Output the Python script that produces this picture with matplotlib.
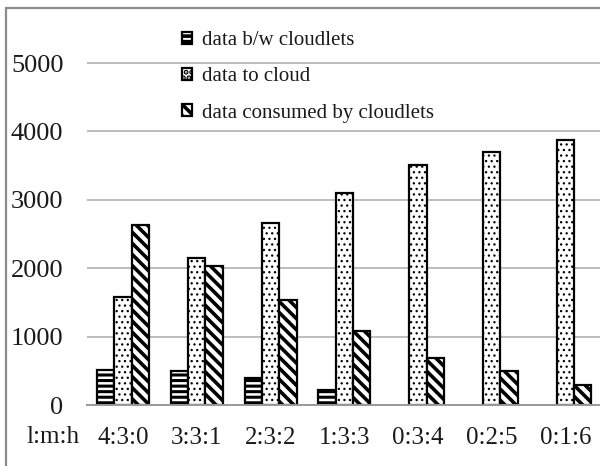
import matplotlib
matplotlib.use("Agg")
import matplotlib.pyplot as plt
import numpy as np
from matplotlib.patches import Rectangle

categories = ["4:3:0", "3:3:1", "2:3:2", "1:3:3", "0:3:4", "0:2:5", "0:1:6"]
series_names = ["data b/w cloudlets", "data to cloud", "data consumed by cloudlets"]
bw_cloudlets = [510, 490, 400, 220, 0, 0, 0]
to_cloud = [1575, 2155, 2665, 3105, 3510, 3695, 3875]
consumed = [2630, 2025, 1535, 1085, 690, 500, 290]
yticks = [0, 1000, 2000, 3000, 4000, 5000]

plt.rcParams['font.family'] = ['Liberation Serif', 'DejaVu Serif']
plt.rcParams['hatch.color'] = 'black'

fig = plt.figure(figsize=(6.0, 4.66), dpi=100)
ax = fig.add_axes([87/600, 61/466, 513/600, 385/466])

x = np.arange(len(categories))
w = 0.235
hatches = ['---', '...', '\\\\\\']
hatch_lw = [2.2, 0.9, 2.6]
data = [bw_cloudlets, to_cloud, consumed]
for i, (vals, h, name) in enumerate(zip(data, hatches, series_names)):
    plt.rcParams['hatch.linewidth'] = hatch_lw[i]
    bars = ax.bar(x + (i - 1) * w, vals, width=w, facecolor='white', edgecolor='black',
                  linewidth=1.6, hatch=h, label=name, zorder=3)
    for b, v in zip(bars, vals):
        if v == 0:
            b.set_visible(False)

ax.set_xlim(-0.49, 6.47)
ax.set_ylim(0, 5629)
ax.set_yticks(yticks)
ax.set_yticklabels([str(v) for v in yticks])
ax.set_xticks(x)
ax.set_xticklabels(categories)
ax.tick_params(axis='y', length=0, pad=17, labelsize=19)
ax.tick_params(axis='x', length=0, pad=16, labelsize=18)
for t in ax.get_xticklabels() + ax.get_yticklabels():
    t.set_color('#1a1a1a')

ax.grid(axis='y', color='#b8b8b8', linewidth=1.3, zorder=0)
ax.set_axisbelow(True)
for s in ['top', 'right', 'left']:
    ax.spines[s].set_visible(False)
ax.spines['bottom'].set_color('#999999')
ax.spines['bottom'].set_linewidth(1.4)
ax.spines['bottom'].set_zorder(4)

fig.text(53/600, 1 - 437/466, "l:m:h", fontsize=18, ha='center', va='center', color='#1a1a1a')

leg = ax.legend(loc='upper left', bbox_to_anchor=(182/600, 1 - 31/466),
                bbox_transform=fig.transFigure, frameon=False, fontsize=15,
                handlelength=0.5, handleheight=0.5, handletextpad=0.45,
                labelspacing=0.83, borderpad=0, borderaxespad=0)
for t in leg.get_texts():
    t.set_color('#1a1a1a')

fig.add_artist(Rectangle((6/600, -0.2), 1.2, 1.2 - 8/466, transform=fig.transFigure,
                         fill=False, edgecolor='#8c8c8c', linewidth=1.6))

fig.savefig("out.png", dpi=100)
